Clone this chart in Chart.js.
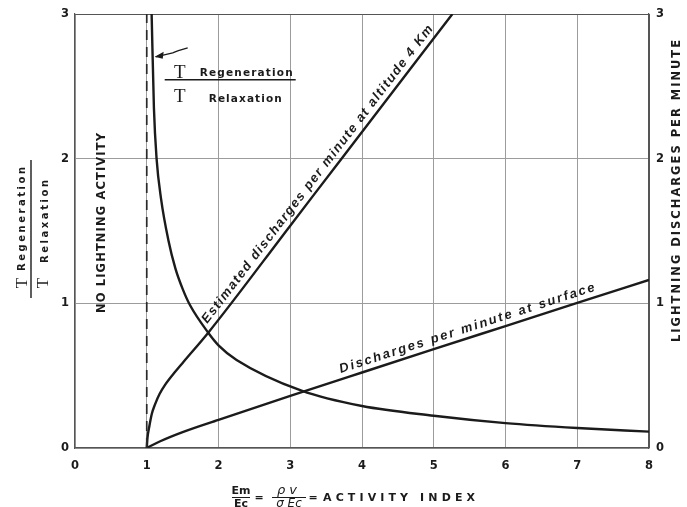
<!DOCTYPE html>
<html>
<head>
<meta charset="utf-8">
<script src="https://cdn.jsdelivr.net/npm/chart.js@4.4.1/dist/chart.umd.min.js"></script>
<style>
  html, body { margin: 0; padding: 0; background: #fff; }
  #wrap { width: 687px; height: 507px; }
</style>
</head>
<body>
<div id="wrap"><canvas id="chart" width="687" height="507"></canvas></div>
<script>
const xTicks = [0, 1, 2, 3, 4, 5, 6, 7, 8];
const yTicks = [0, 1, 2, 3];

// T regeneration / T relaxation
const ratioX = [1.068, 1.10, 1.137, 1.20, 1.30, 1.40, 1.50, 1.60, 1.857, 2.0, 2.252, 3.157, 4, 5, 6, 7, 8];
const ratioY = [3.0, 2.35, 2.0, 1.72, 1.44, 1.24, 1.10, 0.99, 0.797, 0.71, 0.609, 0.396, 0.29, 0.223, 0.172, 0.138, 0.113];

// estimated discharges per minute at altitude 4 km
const altX = [1.0, 1.01, 1.035, 1.07, 1.114, 1.18, 1.253, 1.393, 1.508, 1.857, 3.0, 3.696, 5.26];
const altY = [0, 0.07, 0.147, 0.235, 0.30, 0.375, 0.435, 0.525, 0.593, 0.797, 1.537, 1.988, 3.0];

// discharges per minute at surface
const surfX = [1.0, 1.18, 1.5, 2, 3, 4, 5, 6, 7, 8];
const surfY = [0, 0.045, 0.11, 0.195, 0.36, 0.522, 0.683, 0.843, 1.003, 1.162];

// threshold of activity (dashed)
const noActX = [1, 1];
const noActY = [0, 3];

const ink = '#1b1b1b';

function pts(xs, ys) {
  return xs.map((x, i) => ({ x: x, y: ys[i] }));
}

function interp(xs, ys, x) {
  for (let i = 1; i < xs.length; i++) {
    if (x <= xs[i]) {
      const t = (x - xs[i - 1]) / (xs[i] - xs[i - 1]);
      return ys[i - 1] + t * (ys[i] - ys[i - 1]);
    }
  }
  return ys[ys.length - 1];
}

// draw text stretched to a given width by spacing the letters
function spaced(ctx, text, x, y, width) {
  const chars = [...text];
  const widths = chars.map(c => ctx.measureText(c).width);
  const total = widths.reduce((a, b) => a + b, 0);
  const gap = chars.length > 1 ? (width - total) / (chars.length - 1) : 0;
  let cx = x;
  ctx.textAlign = 'left';
  chars.forEach((c, i) => {
    ctx.fillText(c, cx, y);
    cx += widths[i] + gap;
  });
}

function textAlong(chart, text, xs, ys, x0, x1, offset, font) {
  const sx = chart.scales.x, sy = chart.scales.y;
  const ax = sx.getPixelForValue(x0), ay = sy.getPixelForValue(interp(xs, ys, x0));
  const bx = sx.getPixelForValue(x1), by = sy.getPixelForValue(interp(xs, ys, x1));
  const ctx = chart.ctx;
  ctx.save();
  ctx.translate(ax, ay);
  ctx.rotate(Math.atan2(by - ay, bx - ax));
  ctx.font = font;
  ctx.textBaseline = 'alphabetic';
  spaced(ctx, text, 0, -offset, Math.hypot(bx - ax, by - ay));
  ctx.restore();
}

const labels = {
  id: 'labels',
  afterDatasetsDraw(chart) {
    const ctx = chart.ctx;
    const sx = chart.scales.x, sy = chart.scales.y;
    ctx.save();
    ctx.fillStyle = ink;
    ctx.strokeStyle = ink;

    // labels along the curves
    textAlong(chart, 'Estimated discharges per minute at altitude 4 Km', altX, altY, 1.91, 5.06, 6,
      "italic bold 13px 'Liberation Sans'");
    textAlong(chart, 'Discharges per minute at surface', surfX, surfY, 3.73, 7.28, 6,
      "italic bold 13px 'Liberation Sans'");

    // T regeneration / T relaxation label near the top
    const lx = sx.getPixelForValue(1.25), ly = sy.getPixelForValue(2.545);
    ctx.textBaseline = 'alphabetic';
    ctx.font = "19px 'Liberation Serif'";
    ctx.textAlign = 'center';
    ctx.fillText('T', lx + 15, ly - 2);
    ctx.fillText('T', lx + 15, ly + 22);
    ctx.font = "bold 10.5px 'DejaVu Sans'";
    spaced(ctx, 'Regeneration', lx + 35, ly - 4, 93);
    spaced(ctx, 'Relaxation', lx + 44, ly + 22, 73);
    ctx.lineWidth = 1.6;
    ctx.beginPath();
    ctx.moveTo(lx, ly);
    ctx.lineTo(lx + 131, ly);
    ctx.stroke();
    // arrow to the curve
    ctx.lineWidth = 1.3;
    ctx.beginPath();
    ctx.moveTo(lx + 23, ly - 32);
    ctx.quadraticCurveTo(lx + 12, ly - 29, lx + 8, ly - 27);
    ctx.lineTo(lx - 9, ly - 23);
    ctx.stroke();
    ctx.beginPath();
    ctx.moveTo(lx - 10, ly - 23);
    ctx.lineTo(lx - 1, ly - 28);
    ctx.lineTo(lx - 2, ly - 21);
    ctx.closePath();
    ctx.fill();

    // NO LIGHTNING ACTIVITY
    ctx.save();
    ctx.translate(102, 223);
    ctx.rotate(-Math.PI / 2);
    ctx.font = "bold 11.5px 'DejaVu Sans'";
    ctx.textBaseline = 'middle';
    spaced(ctx, 'NO LIGHTNING ACTIVITY', -90, 0, 180);
    ctx.restore();

    // right axis title
    ctx.save();
    ctx.translate(677, 191);
    ctx.rotate(-Math.PI / 2);
    ctx.font = "bold 11.5px 'DejaVu Sans'";
    ctx.textBaseline = 'middle';
    spaced(ctx, 'LIGHTNING DISCHARGES PER MINUTE', -151, 0, 302);
    ctx.restore();

    // left axis title (fraction)
    ctx.save();
    ctx.translate(31, 229);
    ctx.rotate(-Math.PI / 2);
    ctx.textBaseline = 'alphabetic';
    ctx.font = "17px 'Liberation Serif'";
    ctx.textAlign = 'center';
    ctx.fillText('T', -54, -4);
    ctx.fillText('T', -54, 17);
    ctx.font = "bold 10px 'DejaVu Sans'";
    spaced(ctx, 'Regeneration', -42, -6, 104);
    spaced(ctx, 'Relaxation', -34, 17, 83);
    ctx.lineWidth = 1.4;
    ctx.beginPath();
    ctx.moveTo(-69, 0);
    ctx.lineTo(69, 0);
    ctx.stroke();
    ctx.restore();

    // x axis title
    ctx.textBaseline = 'alphabetic';
    ctx.textAlign = 'center';
    ctx.font = "bold 11px 'DejaVu Sans'";
    ctx.fillText('Em', 241, 494);
    ctx.fillText('Ec', 241, 507);
    ctx.fillText('=', 259, 501);
    ctx.font = "italic 13px 'DejaVu Sans'";
    ctx.fillText('\u03c1 v', 287, 494);
    ctx.font = "italic 12px 'DejaVu Sans'";
    ctx.fillText('\u03c3 Ec', 289, 507);
    ctx.lineWidth = 1;
    ctx.beginPath();
    ctx.moveTo(232, 497.5); ctx.lineTo(250, 497.5);
    ctx.moveTo(272, 497.5); ctx.lineTo(306, 497.5);
    ctx.stroke();
    ctx.font = "bold 11px 'DejaVu Sans'";
    ctx.fillText('=', 313, 501);
    spaced(ctx, 'ACTIVITY INDEX', 323, 501, 152);

    ctx.restore();
  }
};

const tickFont = { family: "'DejaVu Sans'", size: 11.5, weight: 'bold' };

function line(xs, ys, extra) {
  return Object.assign({
    data: pts(xs, ys),
    showLine: true,
    pointRadius: 0,
    borderColor: ink,
    borderWidth: 2.4,
    cubicInterpolationMode: 'monotone',
    fill: false
  }, extra);
}

new Chart(document.getElementById('chart'), {
  type: 'scatter',
  data: {
    datasets: [
      line(noActX, noActY, { borderWidth: 1.7, borderDash: [10, 7], borderColor: '#2a2a2a', cubicInterpolationMode: 'default' }),
      line(ratioX, ratioY, {}),
      line(altX, altY, {}),
      line(surfX, surfY, {})
    ]
  },
  options: {
    responsive: false,
    animation: false,
    layout: { padding: { top: 14, left: 0, right: 0, bottom: 0 } },
    plugins: { legend: { display: false }, tooltip: { enabled: false } },
    scales: {
      x: {
        type: 'linear', min: 0, max: 8,
        afterBuildTicks: s => { s.ticks = xTicks.map(v => ({ value: v })); },
        afterFit: s => { s.height = 59; },
        grid: { color: c => (c.tick && c.tick.value === 8 ? '#555' : '#9c9c9c'), lineWidth: 1, drawTicks: false },
        border: { color: '#555', width: 1.2 },
        ticks: { font: tickFont, color: ink, padding: 11, maxRotation: 0 }
      },
      y: {
        type: 'linear', position: 'left', min: 0, max: 3,
        afterBuildTicks: s => { s.ticks = yTicks.map(v => ({ value: v })); },
        afterFit: s => { s.width = 75; },
        grid: { color: c => (c.tick && c.tick.value === 3 ? '#555' : '#9c9c9c'), lineWidth: 1, drawTicks: false },
        border: { color: '#555', width: 1.2 },
        ticks: { font: tickFont, color: ink, padding: 6 }
      },
      y2: {
        type: 'linear', position: 'right', min: 0, max: 3,
        afterBuildTicks: s => { s.ticks = yTicks.map(v => ({ value: v })); },
        afterFit: s => { s.width = 38; },
        grid: { drawOnChartArea: false, drawTicks: false },
        border: { color: '#555', width: 1.2 },
        ticks: { font: tickFont, color: ink, padding: 7 }
      }
    }
  },
  plugins: [labels]
});
</script>
</body>
</html>
